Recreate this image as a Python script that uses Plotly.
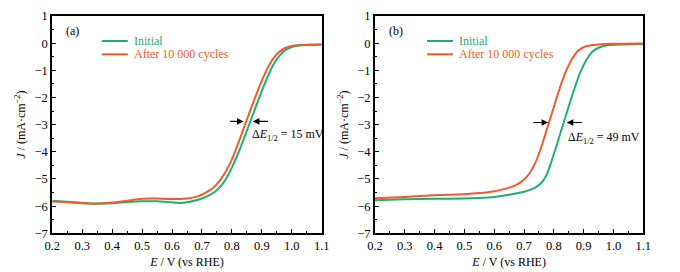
import plotly.graph_objects as go
from plotly.subplots import make_subplots

# ---------------- data ----------------
series_names = ["Initial", "After 10 000 cycles"]
panel_labels = ["(a)", "(b)"]
delta_labels = ["15 mV", "49 mV"]

# Panel (a)
a_init_E = [0.20, 0.25, 0.30, 0.35, 0.40, 0.45, 0.50, 0.55, 0.60, 0.63, 0.66, 0.70, 0.72, 0.74, 0.76, 0.78,
            0.80, 0.82, 0.84, 0.86, 0.88, 0.90, 0.92, 0.94, 0.96, 0.98, 1.00, 1.03, 1.06, 1.10]
a_init_J = [-5.80, -5.84, -5.88, -5.90, -5.89, -5.85, -5.82, -5.82, -5.86, -5.88, -5.84, -5.72, -5.62, -5.50,
            -5.30, -5.00, -4.58, -4.08, -3.52, -2.93, -2.34, -1.76, -1.22, -0.77, -0.45, -0.25, -0.14, -0.08,
            -0.06, -0.05]
a_after_E = [0.20, 0.25, 0.30, 0.35, 0.40, 0.45, 0.50, 0.55, 0.60, 0.65, 0.68, 0.70, 0.72, 0.74, 0.76, 0.78,
             0.80, 0.82, 0.84, 0.86, 0.88, 0.90, 0.92, 0.94, 0.96, 0.98, 1.00, 1.03, 1.06, 1.10]
a_after_J = [-5.83, -5.86, -5.89, -5.91, -5.87, -5.80, -5.73, -5.72, -5.74, -5.72, -5.66, -5.58, -5.46, -5.30,
             -5.05, -4.72, -4.28, -3.72, -3.12, -2.52, -1.93, -1.38, -0.90, -0.54, -0.31, -0.17, -0.10, -0.07,
             -0.06, -0.05]

# Panel (b)
b_init_E = [0.20, 0.30, 0.40, 0.50, 0.55, 0.60, 0.65, 0.70, 0.74, 0.76, 0.77, 0.78, 0.79, 0.81, 0.83, 0.85,
            0.87, 0.89, 0.91, 0.93, 0.95, 0.98, 1.02, 1.10]
b_init_J = [-5.78, -5.75, -5.73, -5.72, -5.70, -5.66, -5.58, -5.47, -5.30, -5.12, -4.96, -4.74, -4.42, -3.74,
            -3.02, -2.32, -1.64, -1.04, -0.60, -0.31, -0.17, -0.08, -0.05, -0.03]
b_after_E = [0.20, 0.30, 0.40, 0.50, 0.55, 0.60, 0.65, 0.68, 0.70, 0.72, 0.74, 0.76, 0.78, 0.80, 0.82, 0.84,
             0.86, 0.88, 0.90, 0.93, 0.96, 1.00, 1.10]
b_after_J = [-5.71, -5.66, -5.60, -5.56, -5.52, -5.45, -5.32, -5.18, -5.02, -4.76, -4.35, -3.75, -3.05, -2.35,
             -1.65, -1.05, -0.60, -0.30, -0.15, -0.07, -0.04, -0.02, -0.01]

# arrows / label positions (data coords)
arrow_y = [-2.88, -2.92]
arrow_left = [(0.789, 0.839), (0.726, 0.781)]   # (tail, tip)
arrow_right = [(0.926, 0.870), (0.899, 0.843)]
delta_pos = [(0.862, -3.37), (0.841, -3.49)]

GREEN = "#1DB072"
ORANGE = "#F15A29"
FONT = "Liberation Serif, Times New Roman, serif"

fig = make_subplots(rows=1, cols=2)

panels = [((a_init_E, a_init_J), (a_after_E, a_after_J)),
          ((b_init_E, b_init_J), (b_after_E, b_after_J))]
for i, (init, after) in enumerate(panels):
    fig.add_trace(go.Scatter(x=init[0], y=init[1], mode="lines", name=series_names[0],
                             line=dict(color=GREEN, width=2, shape="spline", smoothing=0.6),
                             showlegend=False), row=1, col=i + 1)
    fig.add_trace(go.Scatter(x=after[0], y=after[1], mode="lines", name=series_names[1],
                             line=dict(color=ORANGE, width=2, shape="spline", smoothing=0.6),
                             showlegend=False), row=1, col=i + 1)

# page body has an 8 px margin: the figure starts at page (8, 8)
OFF = 8
W, H = 672, 264


def fx(px):  # page x pixel -> paper fraction
    return (px - OFF) / W


def fy(py):  # page y pixel -> paper fraction
    return 1 - (py - OFF) / H


xdom = [[fx(52.3), fx(321.7)], [fx(375.0), fx(643.3)]]
ydom = [fy(233.3), fy(16.0)]

axis_common = dict(showline=True, linecolor="black", linewidth=2, mirror=True,
                   ticks="inside", ticklen=4, tickwidth=1.3, tickcolor="black",
                   showgrid=False, zeroline=False, automargin=False,
                   tickfont=dict(family=FONT, size=12.5, color="black"))

for i in range(2):
    xa = "xaxis" if i == 0 else "xaxis2"
    ya = "yaxis" if i == 0 else "yaxis2"
    fig.layout[xa].update(domain=xdom[i], range=[0.2, 1.1], dtick=0.1, tick0=0.2, tickformat=".1f",
                          minor=dict(dtick=0.05, ticks="inside", ticklen=2, tickwidth=1.3, tickcolor="black"),
                          title=dict(text="<i>E</i> / V (vs RHE)", standoff=5,
                                     font=dict(family=FONT, size=12, color="black")),
                          **axis_common)
    fig.layout[ya].update(domain=ydom, range=[-7, 1], dtick=1, tick0=0,
                          minor=dict(dtick=0.5, ticks="inside", ticklen=2, tickwidth=1.3, tickcolor="black"),
                          title=dict(text="<i>J</i> / (mA·cm<sup>−2</sup>)", standoff=6,
                                     font=dict(family=FONT, size=12, color="black")),
                          **axis_common)

    xr = "x" if i == 0 else "x2"
    yr = "y" if i == 0 else "y2"
    left_px = 52.3 if i == 0 else 375.0
    # panel label
    fig.add_annotation(x=fx(left_px + 12), y=fy(31), xref="paper", yref="paper",
                       text=panel_labels[i], showarrow=False, xanchor="left", yanchor="middle",
                       font=dict(family=FONT, size=12, color="black"))
    # legend (drawn manually to match compact spacing)
    l0 = left_px + (49.5 if i == 0 else 52.0)
    for k, (name, col) in enumerate(zip(series_names, [GREEN, ORANGE])):
        yy = fy(41 + 13.3 * k)
        fig.add_shape(type="line", xref="paper", yref="paper", x0=fx(l0), x1=fx(l0 + 26), y0=yy, y1=yy,
                      line=dict(color=col, width=2))
        fig.add_annotation(x=fx(l0 + 30), y=yy, xref="paper", yref="paper", text=name,
                           showarrow=False, xanchor="left", yanchor="middle",
                           font=dict(family=FONT, size=12, color=col))
    # arrows
    for tail, tip in (arrow_left[i], arrow_right[i]):
        fig.add_annotation(x=tip, y=arrow_y[i], ax=tail, ay=arrow_y[i], xref=xr, yref=yr,
                           axref=xr, ayref=yr, text="", showarrow=True, arrowhead=2,
                           arrowsize=1.1, arrowwidth=1.2, arrowcolor="black")
    fig.add_annotation(x=delta_pos[i][0], y=delta_pos[i][1], xref=xr, yref=yr,
                       text="Δ<i>E</i><sub>1/2</sub> = " + delta_labels[i], showarrow=False,
                       xanchor="left", yanchor="middle",
                       font=dict(family=FONT, size=12, color="black"))

fig.update_layout(width=W, height=H, margin=dict(l=0, r=0, t=0, b=0, autoexpand=False),
                  paper_bgcolor="white", plot_bgcolor="white", showlegend=False,
                  font=dict(family=FONT, size=12, color="black"))

fig.write_html("out.html")
